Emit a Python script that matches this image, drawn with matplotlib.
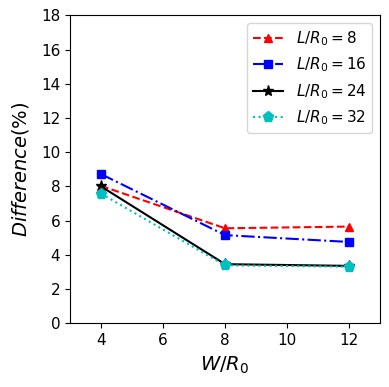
import matplotlib.pyplot as plt

w_r0 = [4, 8, 12]
diff_8 = [8.03, 5.55, 5.65]
diff_16 = [8.72, 5.15, 4.75]
diff_24 = [8.0, 3.45, 3.35]
diff_32 = [7.58, 3.38, 3.3]

fig, ax = plt.subplots(figsize=(3.89, 3.87), dpi=100)

ax.plot(w_r0, diff_8, 'r--^', label=r'$L/R_0=8$')
ax.plot(w_r0, diff_16, 'b-.s', label=r'$L/R_0=16$')
ax.plot(w_r0, diff_24, 'k-*', markersize=8, label=r'$L/R_0=24$')
ax.plot(w_r0, diff_32, 'c:p', markersize=8, label=r'$L/R_0=32$')

ax.set_xlim(3, 13)
ax.set_ylim(0, 18)
ax.set_xticks([4, 6, 8, 10, 12])
ax.set_yticks(range(0, 19, 2))
ax.set_xlabel(r'$W/R_0$', fontsize=14, labelpad=5)
ax.set_ylabel(r'$Difference(\%)$', fontsize=14, labelpad=7)
ax.tick_params(labelsize=11)
ax.legend(fontsize=11)

plt.subplots_adjust(left=0.18, right=0.977, top=0.96, bottom=0.165)
plt.savefig('out.png')
